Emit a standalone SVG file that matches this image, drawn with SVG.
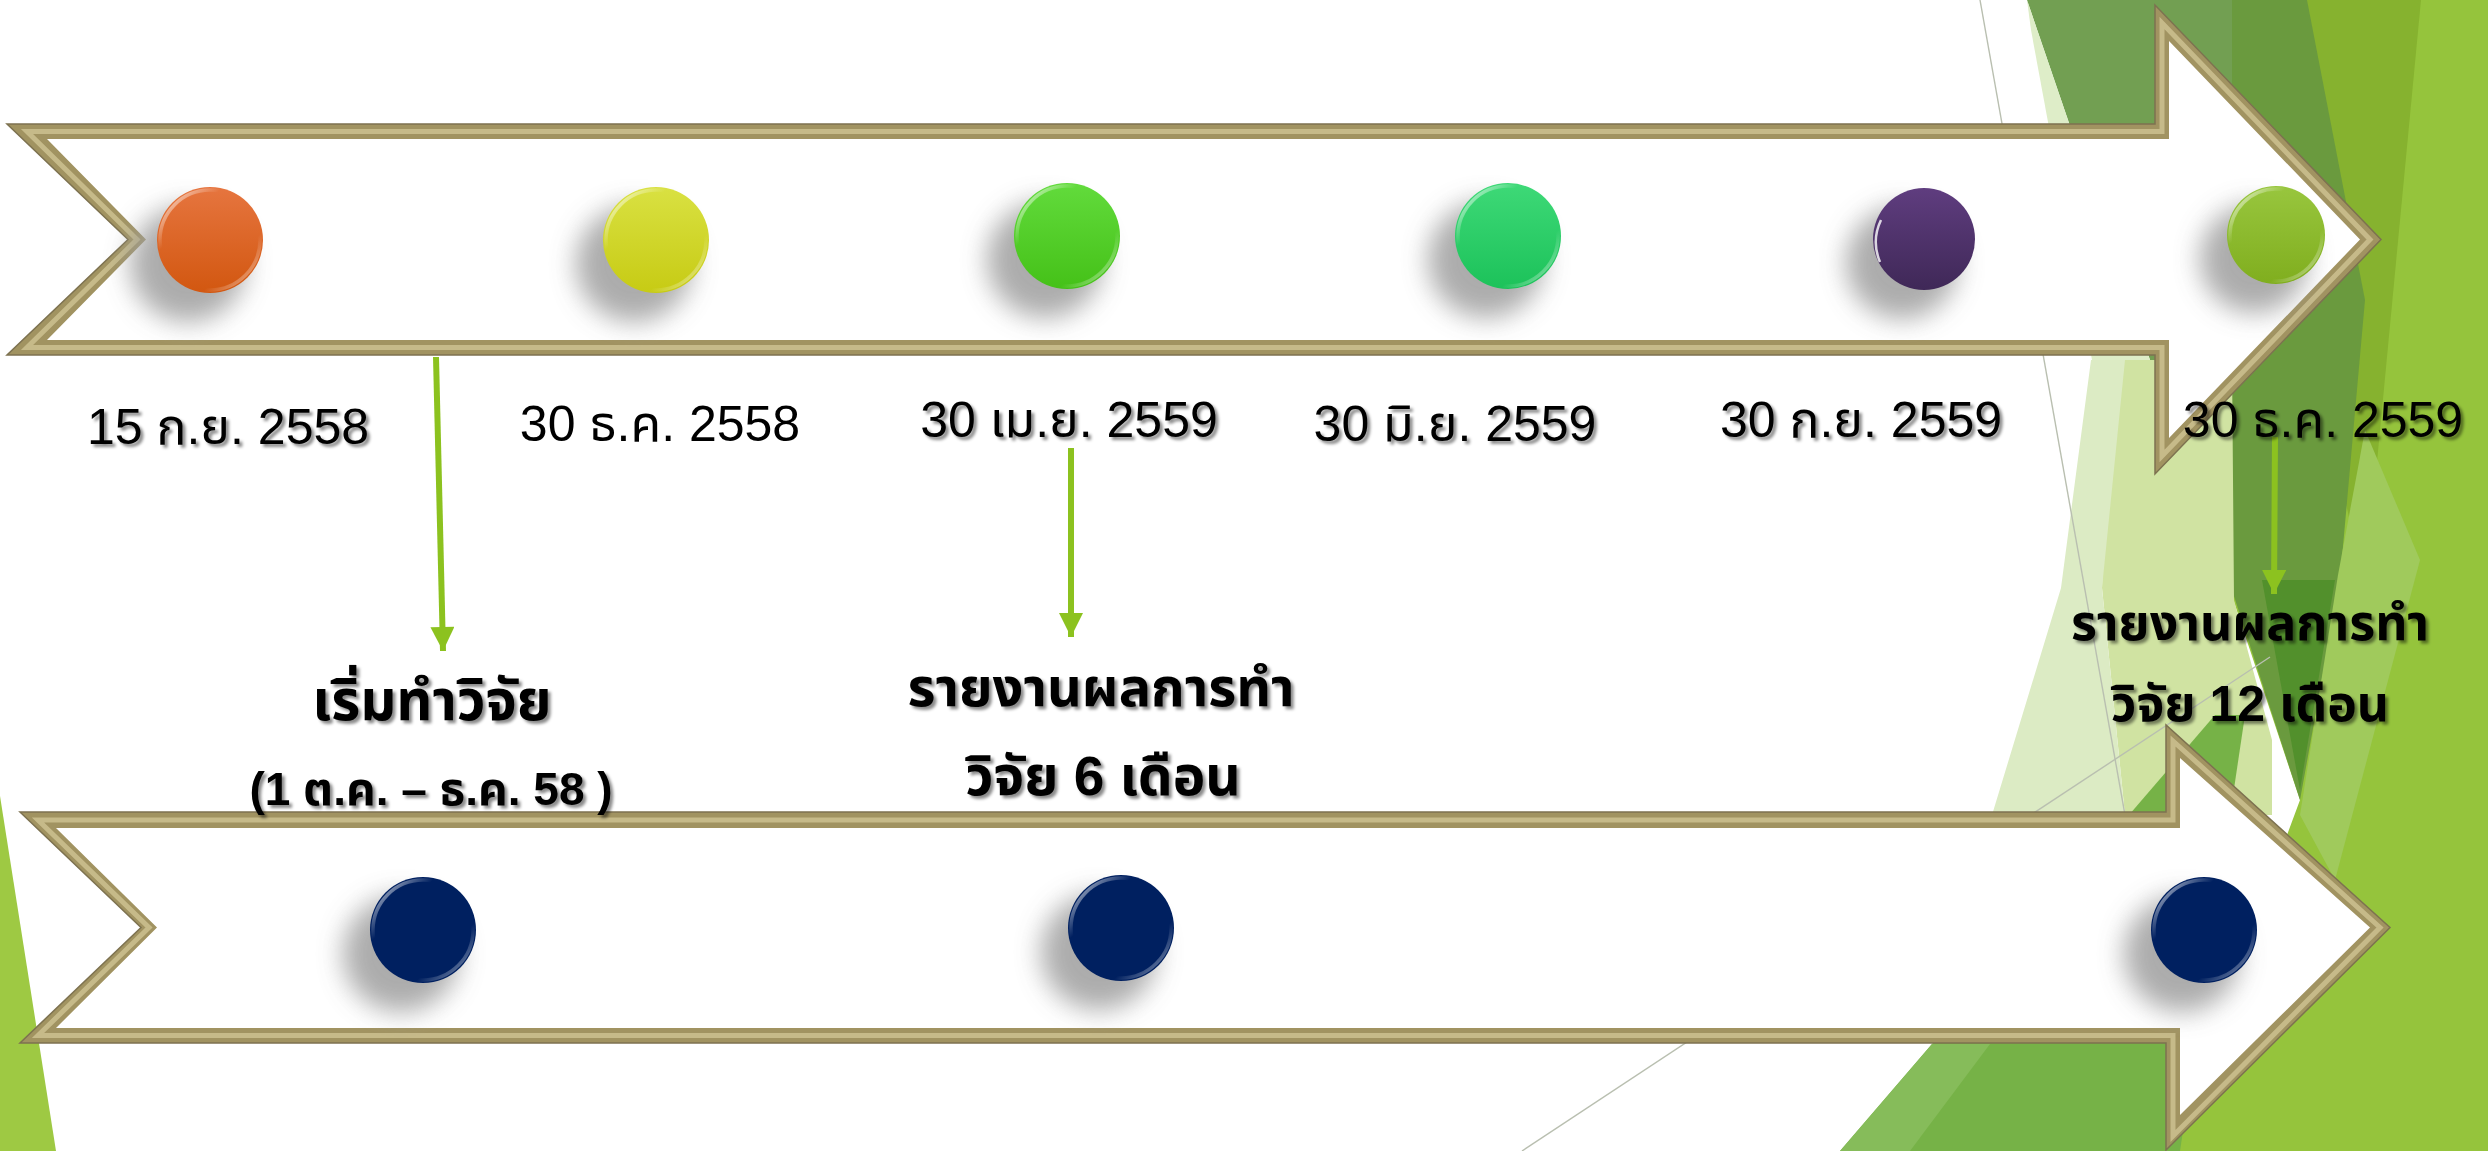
<svg xmlns="http://www.w3.org/2000/svg" width="2488" height="1151" viewBox="0 0 2488 1151">
<defs>
<style>
.date{font-family:"Liberation Sans","Noto Sans Thai","Tahoma","DejaVu Sans",sans-serif;font-size:50px;fill:#000;text-anchor:middle}
.lab{font-family:"Liberation Sans","Noto Sans Thai","Tahoma","DejaVu Sans",sans-serif;font-weight:bold;fill:#000;text-anchor:middle}
.frame{fill:#a19361;stroke:#7d7250;stroke-width:1.5}
.ridge{fill:none;stroke:#cdc191;stroke-width:5;stroke-linejoin:miter;opacity:.85}
.inner{fill:#ffffff}
.conn{stroke:#8cc21f;stroke-width:6;fill:none;marker-end:url(#ah)}
.gline{stroke:#b9bfb0;stroke-width:1.4;fill:none}
.shadow{fill:#9e9e9e;opacity:.85;filter:url(#blur)}
.rim{fill:none;stroke:url(#rimg);stroke-width:3.5}
</style>
<filter id="blur" x="-50%" y="-50%" width="200%" height="200%"><feGaussianBlur stdDeviation="13"/></filter>
<filter id="ts" x="-10%" y="-30%" width="120%" height="160%"><feDropShadow dx="3" dy="3" stdDeviation="1.5" flood-color="#000" flood-opacity="0.45"/></filter>
<marker id="ah" markerUnits="userSpaceOnUse" markerWidth="26" markerHeight="24" viewBox="0 0 10 10" refX="10" refY="5" orient="auto"><path d="M0,0 L10,5 L0,10 z" fill="#8cc21f"/></marker>
<linearGradient id="rimg" x1="0" y1="0" x2="1" y2="1">
<stop offset="0" stop-color="#fff" stop-opacity=".85"/><stop offset=".3" stop-color="#fff" stop-opacity="0"/><stop offset=".72" stop-color="#fff" stop-opacity="0"/><stop offset="1" stop-color="#fff" stop-opacity=".6"/>
</linearGradient>
<linearGradient id="gOr" x1="0" y1="0" x2="0" y2="1"><stop offset="0" stop-color="#e6753f"/><stop offset="1" stop-color="#d25710"/></linearGradient>
<linearGradient id="gYe" x1="0" y1="0" x2="0" y2="1"><stop offset="0" stop-color="#d9e142"/><stop offset="1" stop-color="#c7cb14"/></linearGradient>
<linearGradient id="gGr" x1="0" y1="0" x2="0" y2="1"><stop offset="0" stop-color="#62db3c"/><stop offset="1" stop-color="#45c118"/></linearGradient>
<linearGradient id="gTe" x1="0" y1="0" x2="0" y2="1"><stop offset="0" stop-color="#3ed977"/><stop offset="1" stop-color="#1cc25a"/></linearGradient>
<linearGradient id="gPu" x1="0" y1="0" x2="0" y2="1"><stop offset="0" stop-color="#5f3d7f"/><stop offset="1" stop-color="#3f2857"/></linearGradient>
<linearGradient id="gOl" x1="0" y1="0" x2="0" y2="1"><stop offset="0" stop-color="#98c63e"/><stop offset="1" stop-color="#80ae1e"/></linearGradient>
</defs>
<rect width="2488" height="1151" fill="#ffffff"/>
<g id="background">
<polygon points="2230,0 2488,0 2488,1151 2170,1151 2300,800 2230,590" fill="#95c43c"/>
<polygon points="2307,0 2421,0 2365,588 2300,300" fill="#86b22f"/>
<polygon points="2027,0 2232,0 2232,360 2150,360" fill="#729f52"/>
<polygon points="2027,0 2150,360 2092,360 2031,30" fill="#deedc8"/>
<polygon points="2232,0 2307,0 2365,300 2340,580 2300,800 2232,590" fill="#6a9a3e"/>
<polygon points="2262,580 2335,580 2300,790" fill="#52902c"/>
<polygon points="2110,360 2232,360 2234,600 2272,740 2272,815 2125,815 2102,588" fill="#d0e3a2"/>
<polygon points="2091,360 2125,360 2102,588 2125,815 1992,815 2061,588" fill="#dcebc4"/>
<polygon points="2365,430 2420,560 2335,880 2300,815 2338,575" fill="#a0ca5c"/>
<polygon points="2215,715 2245,715 2180,1151 1840,1151" fill="#76b247"/>
<polygon points="1840,1151 1910,1151 1990,1044 1932,1044" fill="#86bc5a"/>
<polygon points="0,796 56,1151 0,1151" fill="#9ec943"/>
<line class="gline" x1="1980" y1="0" x2="2125" y2="815"/>
<line class="gline" x1="1522" y1="1151" x2="2270" y2="657"/>
</g>
<g id="arrow-top">
<polygon class="frame" points="7,124 2155,124 2155,5 2381,239.5 2155,474 2155,355 7,355 128,239.5"/>
<polygon class="ridge" points="27,131.5 2162,131.5 2162,23 2370,239.5 2162,456 2162,347.5 27,347.5 137,239.5"/>
<polygon class="inner" points="47,139 2169,139 2169,41 2360,239.5 2169,438 2169,340 47,340 146,239.5"/>
</g>
<g id="arrow-bottom">
<polygon class="frame" points="20,812 2166,812 2166,725 2390,927.5 2166,1150 2166,1043 20,1043 141,927.5"/>
<polygon class="ridge" points="38,820 2173,820 2173,741 2380,927.5 2173,1136 2173,1035.5 38,1035.5 149,927.5"/>
<polygon class="inner" points="56,828 2180,828 2180,758 2370,927.5 2180,1115 2180,1028 56,1028 157,927.5"/>
</g>
<g id="dot1"><circle class="shadow" cx="188" cy="264" r="58"/><circle cx="210" cy="240" r="53" fill="url(#gOr)"/><circle class="rim" cx="210" cy="240" r="50"/></g>
<g id="dot2"><circle class="shadow" cx="634" cy="264" r="58"/><circle cx="656" cy="240" r="53" fill="url(#gYe)"/><circle class="rim" cx="656" cy="240" r="50"/></g>
<g id="dot3"><circle class="shadow" cx="1045" cy="260" r="58"/><circle cx="1067" cy="236" r="53" fill="url(#gGr)"/><circle class="rim" cx="1067" cy="236" r="50"/></g>
<g id="dot4"><circle class="shadow" cx="1486" cy="260" r="58"/><circle cx="1508" cy="236" r="53" fill="url(#gTe)"/><circle class="rim" cx="1508" cy="236" r="50"/></g>
<g id="dot5"><circle class="shadow" cx="1902" cy="263" r="56"/><circle cx="1924" cy="239" r="51" fill="url(#gPu)"/><path d="M1881,220 A51,51 0 0 0 1880,262" stroke="#fff" stroke-width="2.5" fill="none" opacity=".8"/></g>
<g id="dot6"><circle class="shadow" cx="2254" cy="259" r="54"/><circle cx="2276" cy="235" r="49" fill="url(#gOl)"/><circle class="rim" cx="2276" cy="235" r="46"/></g>
<g id="dot7"><circle class="shadow" cx="401" cy="954" r="58"/><circle cx="423" cy="930" r="53" fill="#002060"/><circle class="rim" cx="423" cy="930" r="50"/></g>
<g id="dot8"><circle class="shadow" cx="1099" cy="952" r="58"/><circle cx="1121" cy="928" r="53" fill="#002060"/><circle class="rim" cx="1121" cy="928" r="50"/></g>
<g id="dot9"><circle class="shadow" cx="2182" cy="954" r="58"/><circle cx="2204" cy="930" r="53" fill="#002060"/><circle class="rim" cx="2204" cy="930" r="50"/></g>
<g id="connectors">
<line class="conn" x1="436" y1="357" x2="443" y2="651"/>
<line class="conn" x1="1071" y1="448" x2="1071" y2="637"/>
<line class="conn" x1="2275" y1="437" x2="2274" y2="594"/>
</g>
<g id="dates">
<text class="date" x="228" y="444" filter="url(#ts)">15 ก.ย. 2558</text>
<text class="date" x="660" y="441">30 ธ.ค. 2558</text>
<text class="date" x="1069" y="437" filter="url(#ts)">30 เม.ย. 2559</text>
<text class="date" x="1455" y="441" filter="url(#ts)">30 มิ.ย. 2559</text>
<text class="date" x="1861" y="437" filter="url(#ts)">30 ก.ย. 2559</text>
<text class="date" x="2323" y="437" filter="url(#ts)">30 ธ.ค. 2559</text>
</g>
<g id="label-start" filter="url(#ts)">
<text class="lab" x="432" y="720" font-size="56">เริ่มทำวิจัย</text>
<text class="lab" x="431" y="805" font-size="46">(1 ต.ค. – ธ.ค. 58 )</text>
</g>
<g id="label-6m" filter="url(#ts)">
<text class="lab" x="1101" y="706" font-size="54">รายงานผลการทำ</text>
<text class="lab" x="1103" y="795" font-size="55">วิจัย 6 เดือน</text>
</g>
<g id="label-12m" filter="url(#ts)">
<text class="lab" x="2250" y="640" font-size="50">รายงานผลการทำ</text>
<text class="lab" x="2250" y="721" font-size="50">วิจัย 12 เดือน</text>
</g>
</svg>
